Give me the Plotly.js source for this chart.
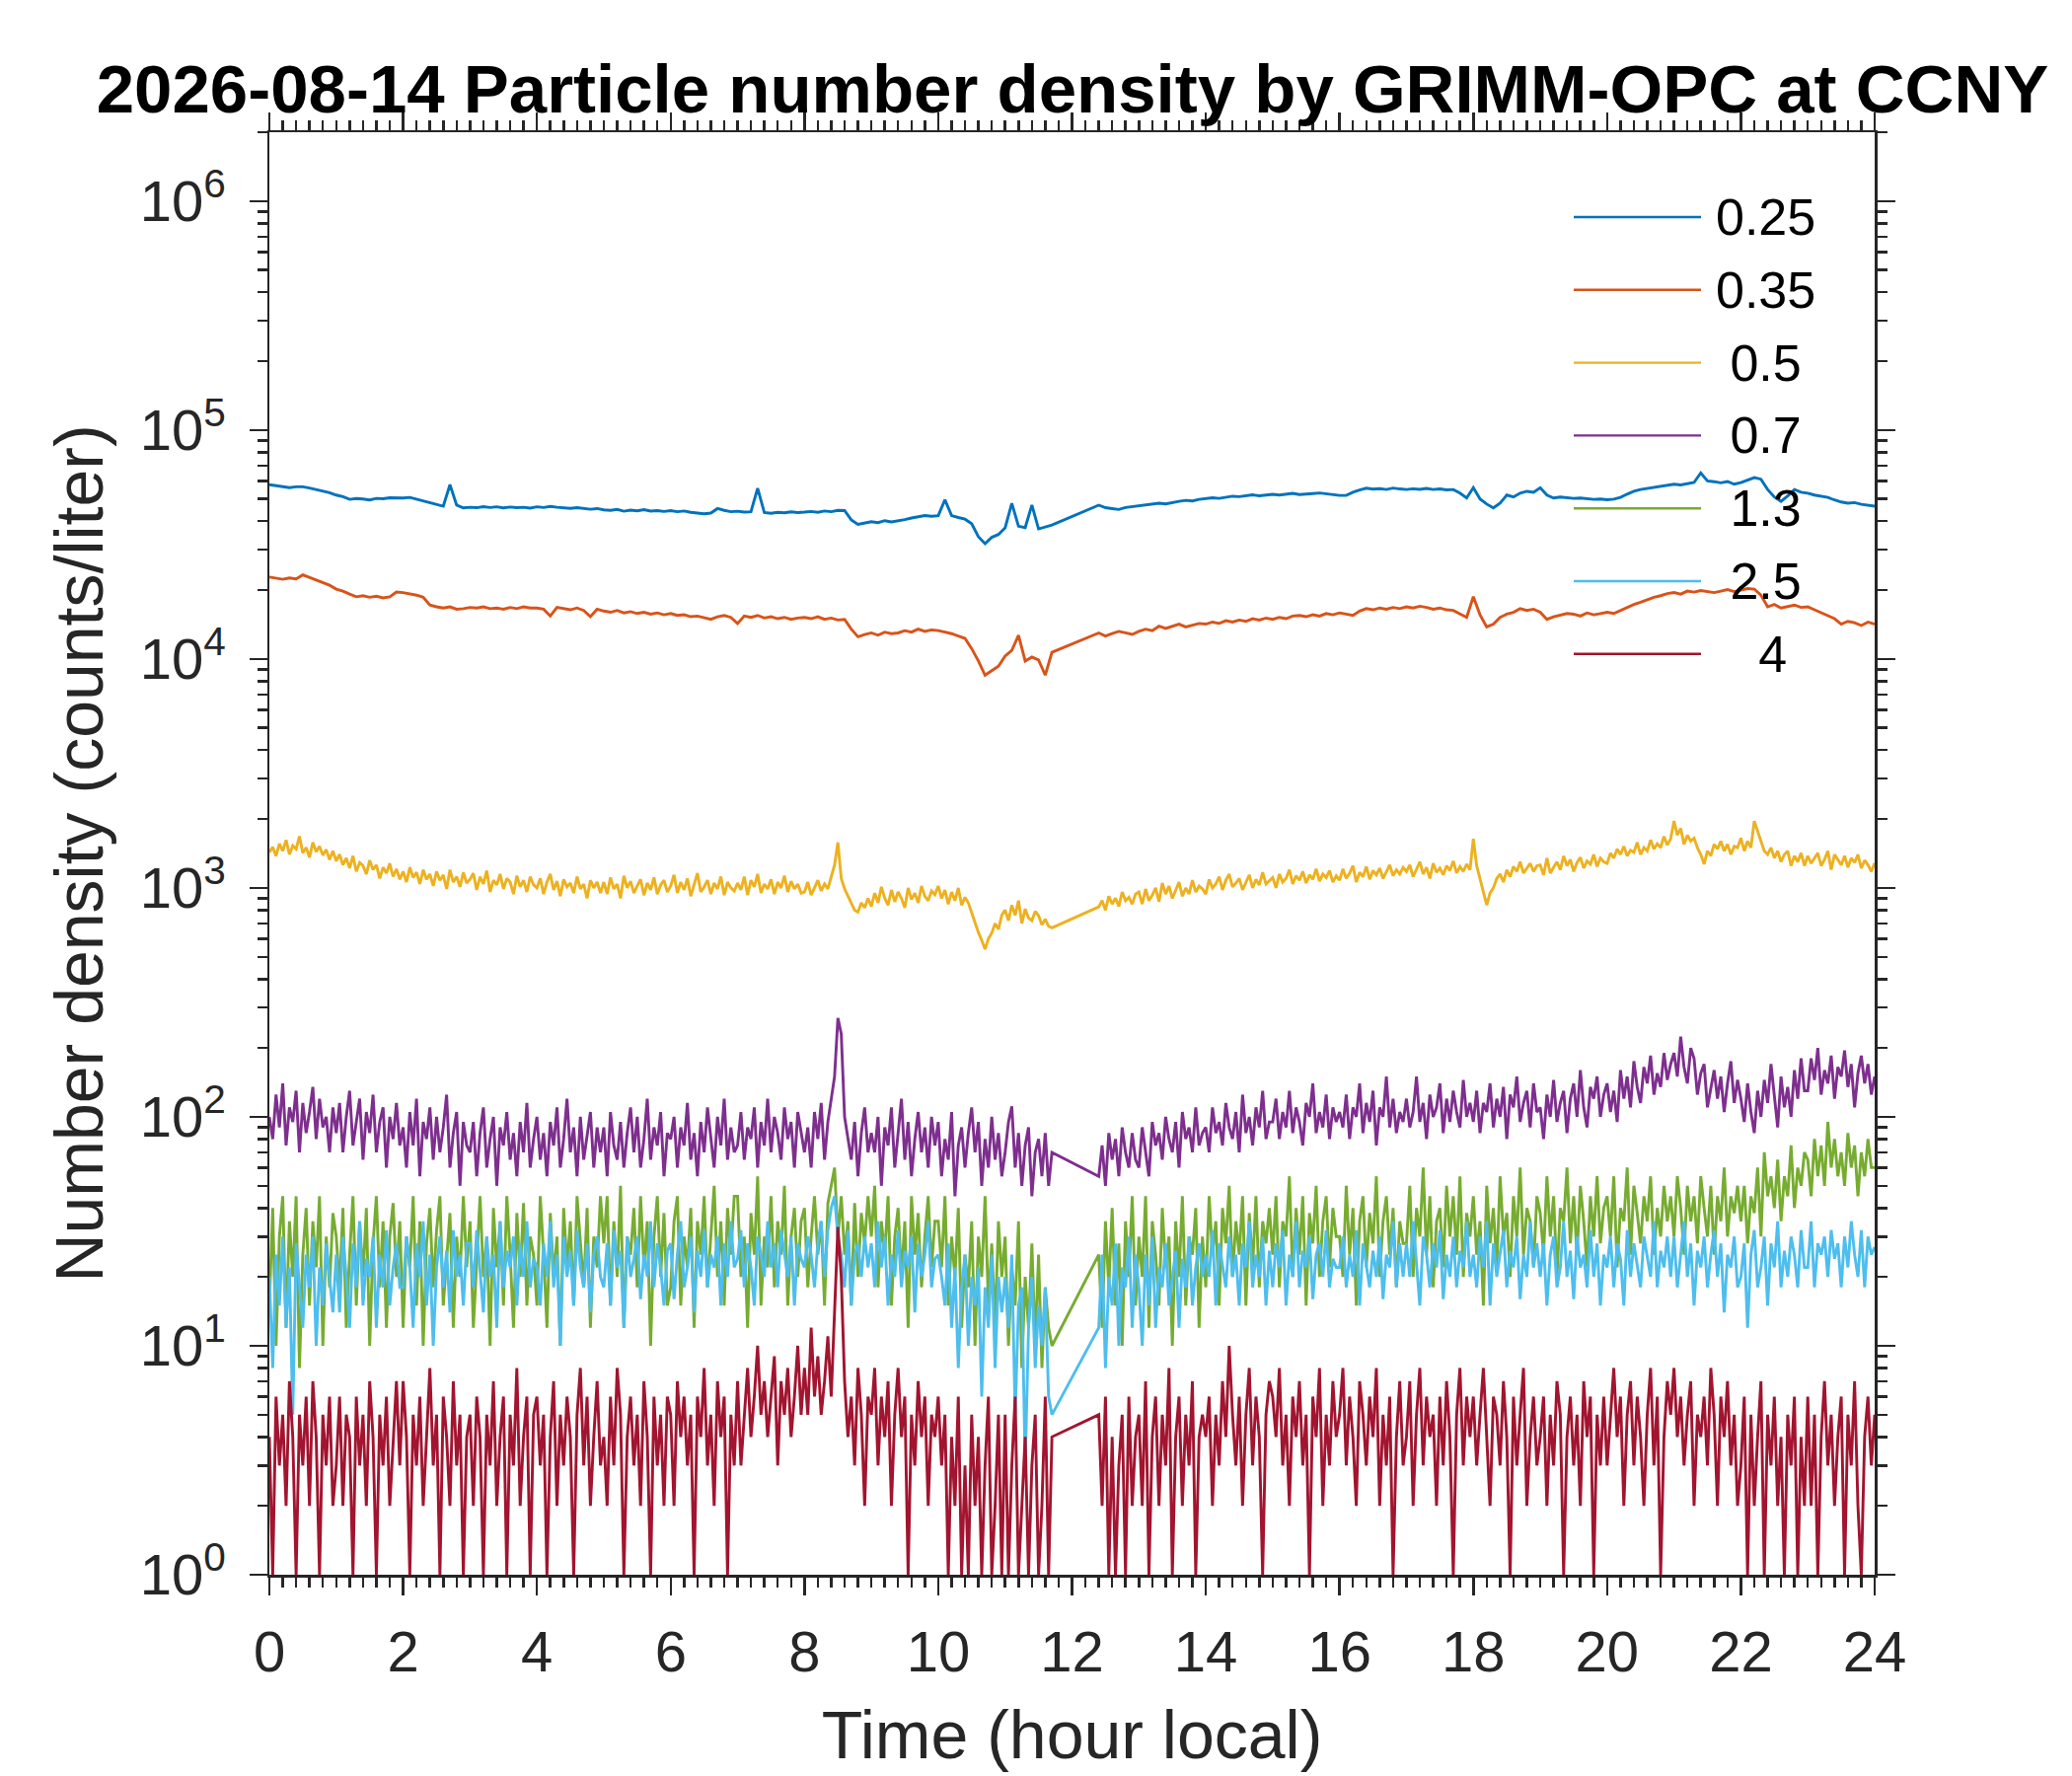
<!DOCTYPE html>
<html>
<head>
<meta charset="utf-8">
<script src="https://cdn.plot.ly/plotly-3.0.1.min.js"></script>
<style>
  html, body { margin: 0; padding: 0; background: #fff; }
  #chart { width: 2100px; height: 1800px; }
</style>
</head>
<body>
<div id="chart"></div>
<script>
// Recording segments (hours); instrument off between 11.7 h and 12.4 h
const SEGMENTS = [[0, 11.7], [12.4, 24]];
const STEP_COARSE = 0.1;   // smooth channels (0.25, 0.35 um)
const STEP_FINE = 0.05;    // noisy channels (0.5 um and up)

// Size bins (um) and MATLAB default line colours
const binLabels = ['0.25', '0.35', '\u00A00.5', '\u00A00.7', '\u00A01.3', '\u00A02.5', '\u00A0\u00A0\u00A04'];
const binColors = ['#0072BD', '#D95319', '#EDB120', '#7E2F8E', '#77AC30', '#4DBEEE', '#A2142F'];

// Number density (counts/liter)
// --- 0.1 h readings
const n025 = [
  57700, 57200, 56800, 56000, 56500, 56500, 55800, 55000, 54200, 53300,
  52000, 51200, 49800, 50200, 50000, 49500, 50300, 50100, 50600, 50400,
  50500, 50800, 49900, 49000, 48000, 47000, 46500, 57700, 47000, 45700,
  46000, 45800, 46300, 45900, 46200, 45700, 46100, 45800, 46000, 45600,
  46200, 45900, 46400, 46000, 45700, 45500, 45800, 45300, 45100, 45400,
  44800, 44600, 45000, 44200, 44700, 44400, 44900, 44300, 44500, 44100,
  44500, 44000, 44300, 43700, 43500, 43100, 43400, 45400, 44600, 44000,
  44200, 43800, 44000, 55700, 43600, 43300, 43700, 43500, 43900, 43600,
  43800, 44100, 43700, 44300, 44000, 44600, 44500, 40500, 38700, 39300,
  39800, 39400, 40200, 39700, 40000, 40600, 41300, 41800, 42300, 42000,
  42300, 49600, 42300, 41500, 40800, 39000, 34200, 31900, 34000, 35000,
  37400, 47900, 38000, 37500, 47000, 37000, 37800, 38500,
  47000, 45800, 45400, 45000, 45900, 46300,
  46800, 47200, 47500, 47900, 47600, 48300, 48800, 49300, 49000, 49800,
  50200, 50600, 50300, 51000, 51400, 51200, 51700, 52100, 51600, 52000,
  52400, 52000, 52600, 52900, 52300, 52400, 52800, 53100, 52600, 52200,
  51800, 51900, 53500, 54700, 55700, 55200, 55500, 55000, 55800, 55300,
  55000, 55400, 55100, 55600, 55000, 55300, 54800, 55000, 53000, 50500,
  56000, 50000, 47500, 45700, 48000, 52000, 51000, 53000, 54000, 53500,
  56000, 52000, 50500, 51000, 50600, 50300, 50500, 50200, 49800, 50000,
  49600, 49900, 50800, 52500, 54000, 55000, 55600, 56200, 57000, 57500,
  58000, 57600, 58500, 59000, 65000, 60000, 59500, 58800, 59600, 58000,
  59000, 60500, 62000, 61000, 55000, 51000, 48800, 51500, 55000, 53500,
  53000, 52000, 51500, 50800, 49500, 48500, 47900, 48200, 47400, 47000,
  46500
];

const n035 = [
  22800, 22500, 22300, 22600, 22400, 23300, 22700, 22200, 21600, 21000,
  20200, 19800, 19200, 18700, 18900, 18600, 18800, 18500, 18700, 19600,
  19500, 19300, 19000, 18600, 17200, 16900, 16700, 16900, 16500, 16600,
  16800, 16700, 16900, 16600, 16700, 16500, 16800, 16600, 16900, 16700,
  16700, 16500, 15400, 16800, 16600, 16400, 16700, 16300, 15300, 16500,
  16200, 16000, 16300, 15900, 16100, 15800, 16000, 15700, 15900, 15600,
  15800, 15500, 15600, 15300, 15400, 15100, 14900, 15300, 15500, 15200,
  14300, 15400, 15200, 15500, 15100, 15300, 15000, 15200, 14900, 15100,
  15200, 15000, 15300, 14900, 15100, 14800, 14900, 13500, 12500, 12800,
  13000, 12700, 13100, 12900, 13000, 13300, 13100, 13500, 13200, 13400,
  13300, 13100, 12900, 12600, 12300, 11100, 9800, 8500, 8900, 9300,
  10300, 10900, 12700, 9800, 10200, 9900, 8500, 10700,
  13000, 12600, 12900, 13200, 13000, 12800,
  13200, 13500, 13300, 13900, 13600, 13900, 14200, 13800, 14100, 14300,
  14200, 14500, 14300, 14700, 14500, 14800, 14600, 15000, 14800, 15100,
  14900, 15200, 15000, 15400, 15500, 15300, 15600, 15400, 15800, 15600,
  15900, 15700, 15500, 16200, 16600, 16400, 16700, 16500, 16800, 16600,
  16900, 16700, 17000, 16800, 16500, 16700, 16400, 16300, 15800, 15200,
  18700, 15600, 13800, 14200, 15200, 15700, 16000, 16600, 16300, 16500,
  16000, 14900, 15300, 15500, 15800, 15700, 15400, 15900, 15600, 15800,
  16000, 15800, 16300, 16800, 17300, 17700, 18200, 18600, 18900, 19300,
  19500, 19200, 19800, 19600, 19900, 19700, 19500, 19800, 20100, 19700,
  20000, 20300, 20200, 19000, 16900, 17300, 16700, 16900, 17200, 16800,
  16900, 16400, 15900, 15500, 15000, 14200, 14600, 14400, 14000, 14500,
  14200
];

// --- 0.05 h readings (20 per hour)
const n05 = [
  1430, 1510, 1380, 1560, 1450, 1620, 1400, 1530, 1480, 1680, 1420, 1500, 1360, 1580, 1440, 1520, 1390, 1470, 1330, 1450,
  1310, 1400, 1260, 1350, 1220, 1380, 1180, 1290, 1250, 1150, 1320, 1200, 1260, 1100, 1230, 1160, 1280, 1120, 1210, 1090,
  1180, 1060, 1230, 1110, 1170, 1040, 1200, 1090, 1150, 1020, 1180, 1080, 1140, 990, 1200, 1060, 1120, 1010, 1170, 1050,
  1090, 1160, 980, 1120, 1040, 1190, 960, 1080, 1030, 1150, 990, 1100, 1060, 940, 1130, 1010, 1080, 960, 1120, 1030,
  1000, 1100, 940, 1060, 1150, 980, 1070, 920, 1090, 1010, 1050, 950, 1120, 990, 1040, 900, 1080, 1000, 1060, 950,
  1060, 940, 1110, 990, 1040, 900, 1130, 1000, 1070, 950, 1020, 1090, 930, 1050, 980, 1110, 940, 1030, 1080, 960,
  1020, 1140, 950, 1060, 980, 1100, 920, 1040, 1160, 960, 1010, 1080, 940, 1050, 990, 1120, 930, 1060, 1000, 970,
  1050, 980, 1120, 930, 1080, 1010, 1150, 950, 1040, 990, 1090, 940, 1060, 1000, 1130, 960, 1070, 990, 1040, 950,
  960, 1060, 930, 1000, 1080, 970, 1040, 990, 1110, 1260, 1580, 1100, 990, 920, 850, 800, 784, 860, 820, 900,
  830, 950, 860, 1010, 903, 840, 980, 870, 960, 900, 820, 1000, 890, 950, 860, 1020, 920, 880, 970, 935,
  1020, 900, 980, 850, 960, 880, 1000, 840, 910, 860, 780, 700, 640, 590, 540, 600, 635, 700, 660, 760,
  800, 720, 841, 760, 880, 700, 810, 740, 720, 790, 757, 690, 730, 680, 669,
  826, 880, 800, 920, 850, 903, 830, 960, 880, 910, 850, 940,
  960, 850, 990, 880, 930, 1000, 870, 1050, 940, 1020, 900, 980, 1060, 920, 1000, 940, 1080, 960, 1020, 990,
  940, 1090, 1000, 1040, 1120, 980, 1080, 1150, 1010, 1050, 1100, 980, 1060, 1140, 1000, 1090, 1030, 1170, 1040, 1080,
  1110, 1000, 1150, 1060, 1100, 1200, 1040, 1130, 1080, 1180, 1050, 1140, 1090, 1210, 1070, 1150, 1110, 1190, 1060, 1130,
  1080, 1210, 1100, 1160, 1250, 1060, 1170, 1120, 1240, 1090, 1190, 1140, 1220, 1100, 1180, 1260, 1130, 1200, 1150, 1230,
  1180, 1260, 1120, 1200, 1300, 1150, 1230, 1100, 1280, 1170, 1220, 1140, 1250, 1190, 1310, 1160, 1240, 1180, 1270, 1200,
  1640, 1250, 1100, 960, 842, 950, 1000, 1100, 1150, 1060, 1200, 1120, 1240, 1180, 1300, 1160, 1220, 1280, 1180, 1250,
  1260, 1140, 1350, 1160, 1230, 1300, 1200, 1380, 1250, 1330, 1180, 1290, 1360, 1220, 1310, 1270, 1400, 1240, 1350, 1300,
  1280, 1420, 1350, 1480, 1400, 1520, 1380, 1460, 1430, 1580, 1400, 1500, 1450, 1620, 1480, 1560, 1500, 1680, 1540, 1640,
  1960, 1700, 1820, 1550, 1700, 1600, 1650, 1500, 1400, 1270, 1450, 1380, 1550, 1480, 1600, 1450, 1550, 1400, 1520, 1500,
  1650, 1450, 1600, 1500, 1960, 1750, 1600, 1450, 1400, 1500, 1350, 1450, 1300, 1400, 1450, 1250, 1380, 1300, 1420, 1250,
  1380, 1280, 1350, 1420, 1250, 1330, 1450, 1200, 1400, 1320, 1260, 1380, 1230, 1350, 1290, 1400, 1220, 1320, 1260, 1180,
  1285
];

const n07 = [
  100, 80, 125, 90, 140, 75, 110, 95, 130, 70, 115, 85, 105, 135, 80, 120, 90, 100, 70, 110,
  85, 115, 70, 100, 130, 75, 95, 120, 65, 105, 85, 125, 70, 95, 110, 60, 100, 80, 115, 75,
  90, 60, 105, 75, 120, 55, 95, 80, 110, 65, 100, 70, 90, 125, 60, 85, 105, 50, 95, 75,
  70, 95, 55, 85, 110, 60, 80, 100, 50, 90, 75, 105, 65, 85, 55, 95, 70, 115, 60, 80,
  100, 65, 85, 55, 95, 75, 110, 60, 80, 120, 70, 90, 55, 100, 65, 85, 105, 60, 90, 70,
  90, 55, 105, 75, 65, 95, 60, 85, 110, 70, 100, 60, 80, 120, 65, 90, 75, 105, 55, 85,
  80, 100, 60, 90, 75, 115, 65, 85, 55, 95, 70, 110, 80, 60, 100, 75, 120, 65, 90, 70,
  75, 105, 65, 90, 80, 110, 60, 95, 75, 120, 70, 100, 85, 65, 110, 80, 95, 60, 105, 85,
  70, 90, 60, 105, 80, 115, 65, 95, 120, 150, 270, 230, 100, 80, 65, 95, 55, 85, 110, 70,
  85, 70, 100, 50, 90, 75, 110, 60, 85, 120, 65, 95, 55, 80, 105, 70, 90, 60, 100, 75,
  95, 55, 80, 65, 105, 45, 75, 90, 60, 85, 110, 70, 95, 50, 80, 60, 100, 65, 85, 55,
  70, 95, 111, 60, 85, 50, 75, 90, 45, 70, 80, 55, 85, 50, 70,
  55, 75, 50, 85, 65, 80, 55, 90, 70, 60, 85, 65,
  60, 90, 70, 55, 95, 75, 85, 65, 100, 80, 70, 95, 60, 105, 80, 90, 70, 110, 75, 85,
  90, 70, 110, 85, 95, 75, 115, 90, 80, 105, 70, 125, 85, 100, 75, 110, 90, 130, 80, 95,
  95, 120, 80, 105, 90, 130, 85, 110, 95, 75, 115, 100, 140, 85, 105, 90, 125, 80, 110, 95,
  105, 90, 125, 80, 110, 100, 140, 85, 115, 95, 130, 75, 110, 100, 150, 90, 120, 85, 105, 95,
  120, 90, 105, 150, 95, 115, 80, 125, 100, 110, 140, 85, 120, 95, 130, 105, 90, 145, 100, 115,
  95, 130, 85, 115, 105, 140, 90, 120, 100, 135, 80, 125, 110, 150, 95, 115, 130, 90, 140, 105,
  110, 80, 125, 100, 145, 95, 115, 130, 85, 120, 140, 100, 160, 110, 90, 135, 120, 150, 100, 125,
  140, 105, 130, 95, 160, 120, 150, 110, 175, 135, 115, 165, 140, 185, 125, 155, 135, 190, 145, 170,
  190, 150, 224, 165, 140, 200, 180, 125, 155, 170, 110, 135, 160, 120, 150, 105, 140, 175, 115, 145,
  120, 95, 140, 105, 85, 130, 100, 145, 115, 170, 125, 90, 150, 110, 135, 100, 160, 120, 180, 130,
  130, 180, 145, 200, 125, 160, 140, 185, 120, 165, 150, 195, 135, 170, 110, 155, 185, 140, 170, 125,
  150
];

const n13 = [
  15, 40, 10, 30, 45, 12, 35, 20, 45, 8, 25, 40, 15, 35, 22, 45, 10, 30, 18, 38,
  30, 18, 40, 12, 25, 45, 15, 35, 20, 40, 10, 28, 45, 18, 35, 12, 30, 42, 20, 35,
  12, 30, 22, 45, 15, 35, 10, 28, 40, 18, 32, 45, 15, 25, 38, 12, 30, 20, 45, 22,
  35, 12, 25, 45, 20, 30, 10, 40, 22, 35, 15, 45, 25, 12, 38, 20, 42, 15, 30, 25,
  15, 45, 25, 12, 38, 20, 30, 10, 40, 22, 35, 15, 45, 28, 18, 40, 12, 30, 22, 45,
  28, 45, 15, 35, 20, 50, 12, 30, 25, 40, 18, 45, 22, 35, 10, 30, 45, 20, 38, 15,
  18, 35, 45, 15, 30, 22, 40, 12, 35, 25, 45, 18, 30, 50, 20, 35, 15, 40, 25, 45,
  45, 20, 30, 12, 38, 25, 55, 15, 30, 22, 45, 18, 35, 25, 50, 15, 30, 40, 20, 35,
  40, 18, 30, 45, 25, 35, 15, 42, 50, 60, 30, 45, 25, 35, 15, 42, 20, 38, 28, 45,
  30, 50, 18, 35, 25, 45, 15, 30, 40, 20, 35, 12, 45, 25, 38, 18, 30, 45, 22, 35,
  35, 22, 45, 15, 30, 20, 40, 12, 25, 18, 35, 10, 30, 20, 45, 15, 28, 12, 35, 20,
  30, 10, 22, 15, 35, 8, 20, 12, 28, 10, 25, 8, 18, 12, 10,
  25, 12, 35, 18, 40, 15, 28, 10, 35, 20, 45, 15,
  30, 20, 45, 12, 35, 25, 15, 40, 22, 30, 10, 35, 20, 45, 15, 30, 25, 40, 12, 30,
  18, 45, 25, 35, 15, 40, 28, 50, 20, 35, 25, 45, 15, 38, 22, 45, 18, 35, 28, 40,
  25, 45, 18, 35, 30, 55, 20, 40, 25, 45, 15, 38, 28, 50, 20, 35, 45, 22, 40, 30,
  30, 20, 50, 25, 40, 15, 35, 45, 22, 38, 28, 55, 20, 35, 45, 25, 40, 18, 35, 28,
  28, 50, 20, 40, 30, 60, 25, 45, 18, 35, 40, 22, 50, 30, 45, 25, 55, 20, 38, 30,
  45, 25, 35, 15, 50, 28, 40, 22, 55, 30, 38, 20, 45, 30, 60, 25, 40, 35, 22, 45,
  38, 25, 55, 30, 45, 20, 40, 35, 60, 28, 45, 25, 50, 35, 22, 45, 30, 55, 28, 40,
  45, 30, 55, 22, 40, 35, 60, 25, 50, 38, 28, 45, 35, 55, 25, 40, 30, 50, 35, 45,
  30, 55, 40, 25, 50, 35, 45, 28, 55, 40, 30, 50, 25, 45, 35, 60, 30, 45, 38, 50,
  35, 50, 28, 45, 38, 60, 30, 70, 45, 55, 40, 65, 35, 55, 45, 75, 40, 60, 50, 70,
  65, 45, 80, 55, 75, 50, 95, 60, 80, 55, 70, 50, 85, 60, 75, 45, 70, 55, 80, 60,
  60
];

const n25 = [
  20, 8, 25, 15, 30, 12, 22, 5, 28, 18, 12, 25, 18, 30, 10, 22, 15, 28, 20, 14,
  25, 14, 30, 20, 12, 28, 18, 35, 15, 24, 20, 30, 12, 25, 18, 32, 15, 22, 28, 18,
  18, 30, 22, 12, 28, 20, 35, 15, 25, 10, 22, 30, 18, 26, 14, 32, 20, 25, 15, 28,
  28, 18, 32, 22, 14, 30, 20, 25, 12, 35, 18, 26, 22, 30, 15, 28, 20, 35, 18, 24,
  22, 15, 28, 20, 35, 18, 25, 10, 30, 20, 26, 15, 32, 22, 18, 28, 14, 25, 30, 20,
  18, 28, 15, 32, 22, 26, 12, 30, 20, 24, 30, 16, 25, 20, 35, 18, 28, 22, 15, 26,
  28, 16, 25, 35, 18, 22, 30, 14, 26, 20, 32, 18, 25, 22, 30, 15, 28, 20, 35, 22,
  24, 32, 18, 28, 22, 15, 30, 25, 20, 35, 22, 28, 18, 32, 25, 20, 30, 15, 28, 24,
  22, 30, 25, 18, 28, 35, 20, 32, 40, 45, 30, 25, 18, 32, 15, 25, 28, 20, 30, 22,
  28, 18, 35, 22, 30, 15, 25, 20, 32, 18, 26, 22, 30, 14, 28, 20, 25, 35, 18, 24,
  25, 20, 15, 28, 12, 22, 8, 18, 25, 10, 20, 15, 22, 6, 18, 12, 25, 8, 20, 14,
  20, 12, 25, 5, 15, 18, 3, 12, 20, 8, 15, 10, 18, 6, 5,
  12, 25, 8, 20, 15, 28, 10, 22, 18, 30, 12, 25,
  18, 10, 25, 15, 30, 12, 22, 18, 28, 15, 20, 26, 12, 24, 18, 30, 15, 22, 28, 20,
  25, 20, 32, 15, 28, 22, 18, 30, 20, 25, 15, 28, 22, 35, 18, 25, 20, 30, 15, 26,
  18, 28, 22, 32, 15, 25, 20, 35, 18, 26, 22, 30, 16, 25, 28, 20, 32, 18, 24, 22,
  22, 30, 18, 25, 20, 32, 15, 28, 22, 18, 26, 20, 30, 16, 25, 22, 35, 18, 28, 20,
  28, 20, 35, 22, 15, 30, 25, 18, 28, 22, 32, 16, 25, 20, 30, 18, 26, 22, 35, 20,
  25, 18, 30, 22, 35, 15, 28, 20, 25, 32, 18, 26, 22, 30, 16, 25, 20, 35, 22, 28,
  20, 28, 15, 25, 30, 18, 22, 35, 20, 26, 16, 30, 22, 25, 18, 32, 20, 28, 15, 25,
  22, 30, 18, 28, 24, 15, 32, 20, 28, 22, 18, 30, 25, 20, 35, 18, 26, 22, 30, 20,
  30, 18, 25, 35, 20, 28, 15, 26, 22, 30, 18, 25, 32, 20, 28, 14, 25, 22, 30, 18,
  20, 28, 12, 25, 32, 18, 22, 30, 15, 28, 22, 35, 18, 26, 20, 30, 25, 18, 32, 22,
  22, 35, 18, 28, 25, 30, 20, 32, 24, 28, 18, 30, 22, 35, 25, 20, 32, 18, 30, 25,
  27
];

const n4 = [
  4, 1, 6, 3, 5, 2, 7, 4, 1, 5, 3, 6, 2, 7, 4, 1, 5, 3, 6, 2,
  3, 6, 2, 5, 4, 1, 6, 3, 5, 2, 7, 4, 1, 5, 3, 6, 2, 4, 7, 3,
  7, 4, 1, 5, 3, 6, 2, 4, 8, 3, 5, 1, 6, 4, 2, 7, 3, 5, 1, 4,
  5, 2, 6, 4, 1, 5, 3, 7, 2, 4, 6, 1, 5, 3, 8, 2, 4, 6, 1, 5,
  6, 3, 5, 1, 4, 7, 2, 5, 3, 6, 4, 1, 5, 8, 3, 6, 2, 4, 7, 3,
  4, 2, 6, 3, 8, 5, 1, 4, 6, 3, 5, 2, 7, 4, 1, 6, 3, 5, 2, 6,
  5, 2, 7, 4, 6, 3, 5, 1, 6, 4, 8, 3, 5, 2, 7, 4, 6, 1, 5, 3,
  7, 3, 5, 8, 4, 6, 10, 5, 7, 4, 6, 9, 3, 7, 5, 8, 4, 6, 10, 5,
  8, 5, 12, 6, 9, 5, 7, 11, 6, 14, 33, 20, 7, 4, 6, 3, 8, 5, 2, 6,
  5, 8, 3, 6, 4, 7, 2, 5, 8, 4, 6, 1, 5, 3, 7, 4, 6, 2, 5, 4,
  6, 3, 5, 1, 4, 2, 6, 1, 3, 1, 5, 2, 4, 1, 3, 6, 1, 2, 5, 1,
  5, 1, 3, 6, 1, 2, 4, 1, 3, 5, 1, 2, 6, 1, 4,
  5, 2, 6, 1, 4, 1, 3, 5, 1, 6, 2, 4,
  5, 2, 7, 1, 4, 6, 2, 5, 3, 8, 1, 4, 6, 2, 5, 3, 7, 1, 4, 5,
  4, 6, 2, 5, 3, 7, 4, 10, 5, 3, 6, 2, 5, 8, 3, 6, 4, 1, 5, 7,
  6, 4, 8, 3, 5, 2, 6, 4, 7, 3, 5, 1, 6, 4, 8, 2, 5, 3, 7, 4,
  5, 8, 3, 6, 4, 2, 7, 5, 3, 6, 4, 8, 2, 5, 3, 6, 1, 4, 7, 3,
  4, 7, 2, 5, 8, 3, 6, 4, 5, 2, 6, 3, 7, 4, 1, 5, 8, 3, 6, 4,
  6, 3, 5, 8, 4, 2, 6, 5, 3, 7, 4, 1, 6, 3, 5, 8, 2, 4, 6, 3,
  4, 6, 2, 5, 3, 7, 5, 1, 4, 6, 3, 5, 2, 7, 4, 6, 1, 5, 3, 6,
  3, 5, 8, 4, 6, 2, 5, 7, 3, 6, 4, 2, 5, 8, 3, 6, 1, 4, 7, 5,
  8, 4, 6, 3, 5, 7, 2, 5, 4, 6, 3, 8, 5, 2, 6, 4, 7, 3, 5, 2,
  3, 6, 1, 5, 2, 4, 7, 1, 5, 3, 6, 2, 4, 1, 5, 3, 6, 1, 4, 2,
  6, 2, 5, 1, 4, 7, 3, 5, 2, 4, 6, 1, 5, 3, 7, 2, 1, 4, 6, 3,
  5
];

const xTicks = [0, 2, 4, 6, 8, 10, 12, 14, 16, 18, 20, 22, 24];
const yTickVals = [1, 10, 100, 1000, 10000, 100000, 1000000];
const yTickText = ['10<sup>0</sup>', '10<sup>1</sup>', '10<sup>2</sup>', '10<sup>3</sup>',
                   '10<sup>4</sup>', '10<sup>5</sup>', '10<sup>6</sup>'];

// Time stamps of the readings within the two recording segments
function timeGrid(step) {
    const out = [];
    SEGMENTS.forEach(([a, b]) => {
        const n = Math.round((b - a) / step);
        for (let k = 0; k <= n; k++) out.push(Math.round((a + k * step) * 100) / 100);
    });
    return out;
}
const hoursCoarse = timeGrid(STEP_COARSE);
const hoursFine = timeGrid(STEP_FINE);

const series = [n025, n035, n05, n07, n13, n25, n4];
const seriesHours = [hoursCoarse, hoursCoarse, hoursFine, hoursFine, hoursFine, hoursFine, hoursFine];
series.forEach((s, i) => {
    if (s.length !== seriesHours[i].length) console.error('length mismatch', binLabels[i], s.length, seriesHours[i].length);
});

// Figure geometry (px)
const W = 2100, H = 1800;
const PLOT = { l: 273, r: 1900, t: 134, b: 1596 };
const AXIS_COLOR = '#262626';
const FONT = 'Liberation Sans, Arial, Helvetica, sans-serif';
const LINE_W = 2.9;
const LEG_LINE_W = 2.4;

const traces = series.map((s, i) => ({
    x: seriesHours[i],
    y: s,
    type: 'scatter',
    mode: 'lines',
    name: binLabels[i],
    line: { color: binColors[i], width: LINE_W },
    showlegend: false
}));

// Legend drawn by hand, MATLAB style (no box, long line samples)
const toPx = px => (px - PLOT.l) / (PLOT.r - PLOT.l);
const toPy = py => (PLOT.b - py) / (PLOT.b - PLOT.t);
const LEG = { x0: 1595, x1: 1724, textX: 1737, y0: 220, dy: 73.8 };
const legShapes = binLabels.map((lab, i) => ({
    type: 'line', xref: 'paper', yref: 'paper',
    x0: toPx(LEG.x0), x1: toPx(LEG.x1),
    y0: toPy(LEG.y0 + i * LEG.dy), y1: toPy(LEG.y0 + i * LEG.dy),
    line: { color: binColors[i], width: LEG_LINE_W }
}));
const legText = binLabels.map((lab, i) => ({
    text: lab, xref: 'paper', yref: 'paper',
    x: toPx(LEG.textX), y: toPy(LEG.y0 + i * LEG.dy),
    xanchor: 'left', yanchor: 'middle', showarrow: false,
    font: { family: FONT, size: 52, color: '#000' }
}));

const tickCommon = {
    ticks: 'outside', ticklen: 18, tickwidth: 2.5, tickcolor: AXIS_COLOR,
    showline: true, linecolor: AXIS_COLOR, linewidth: 2.5, mirror: 'allticks',
    showgrid: false, zeroline: false, automargin: false,
    tickfont: { family: FONT, size: 58, color: AXIS_COLOR }
};

const layout = {
    width: W, height: H,
    paper_bgcolor: '#fff', plot_bgcolor: '#fff',
    margin: { l: PLOT.l, r: W - PLOT.r, t: PLOT.t, b: H - PLOT.b, pad: 0 },
    showlegend: false,
    title: {
        text: '2026-08-14 Particle number density by GRIMM-OPC at CCNY',
        font: { family: FONT, size: 69, color: '#000', weight: 'bold' },
        xref: 'container', x: 1087 / W, xanchor: 'center',
        yref: 'container', y: 1 - 90 / H, yanchor: 'middle'
    },
    xaxis: {
        ...tickCommon,
        range: [0, 24],
        tickmode: 'array', tickvals: xTicks, ticktext: xTicks.map(String),
        ticklabelstandoff: 8,
        minor: { dtick: 0.2, tick0: 0, ticks: 'outside', ticklen: 10, tickwidth: 2.5, tickcolor: AXIS_COLOR, showgrid: false },
        title: { text: 'Time (hour local)', font: { family: FONT, size: 68, color: AXIS_COLOR }, standoff: 30 }
    },
    yaxis: {
        ...tickCommon,
        type: 'log',
        range: [0, Math.log10(2e6)],
        tickmode: 'array', tickvals: yTickVals, ticktext: yTickText,
        ticklabelstandoff: 12,
        minor: { dtick: 'D1', ticks: 'outside', ticklen: 10, tickwidth: 2.5, tickcolor: AXIS_COLOR, showgrid: false },
        title: { text: 'Number density (counts/liter)', font: { family: FONT, size: 68, color: AXIS_COLOR }, standoff: 15 }
    },
    shapes: legShapes,
    annotations: legText
};

Plotly.newPlot('chart', traces, layout, { displayModeBar: false, staticPlot: true });
</script>
</body>
</html>
